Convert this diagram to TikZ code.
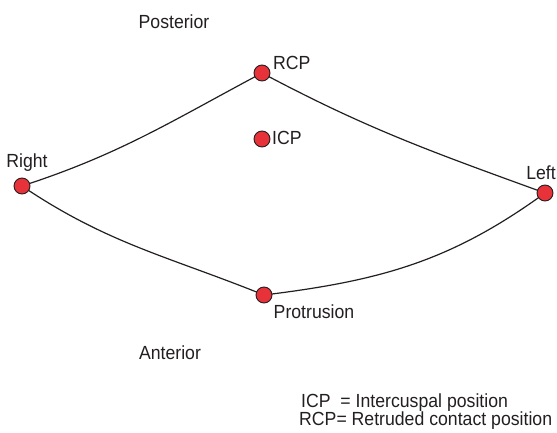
\documentclass[tikz,border=0pt]{standalone}
\usepackage{fontspec}
\setmainfont{Liberation Sans}[FakeStretch=0.93]
\usepackage{tikz}
\usetikzlibrary{%
  positioning%
}
\definecolor{dotred}{RGB}{232,50,58}
\definecolor{inkline}{RGB}{35,31,32}

\begin{document}
\begin{tikzpicture}[x=1pt,y=1pt,
  posdot/.style={circle,draw=inkline,line width=0.9pt,fill=dotred,minimum size=16pt,inner sep=0pt},
  lbl/.style={inner sep=0pt,text=inkline,font=\fontsize{19}{22}\selectfont},
  curve/.style={draw=inkline,line width=1.2pt}]
\useasboundingbox (0,0) rectangle (557,432);
\node[lbl] (post) at (174,410) {Posterior};
\node[lbl] (ant) at (170,79) {Anterior};
%
\coordinate (cR) at (22,246);
\coordinate (cRCP) at (262,359);
\coordinate (cICP) at (262,293);
\coordinate (cL) at (545,239);
\coordinate (cP) at (264,137);
%
\draw[curve] (cR) to[out=18,in=208] (cRCP)
             (cRCP) to[out=-28,in=160] (cL)
             (cR) to[out=-34,in=158] (cP)
             (cP) to[out=7,in=216] (cL);
%
\node[posdot] (right) at (cR) {};
\node[posdot] (rcp) at (cRCP) {};
\node[posdot] (icp) at (cICP) {};
\node[posdot] (left) at (cL) {};
\node[posdot] (prot) at (cP) {};
%
\node[lbl,anchor=west] (trcp) at (273,369) {RCP};
\node[lbl,anchor=west] (ticp) at (272,294) {ICP};
\node[lbl] (tright) at (27,269) {Right};
\node[lbl] (tleft) at (541,259) {Left};
\node[lbl] (tprot) at (314,120) {Protrusion};
%
\node[lbl,anchor=west,align=left,font=\fontsize{19}{17}\selectfont] (key) at (299,20.5)
  {\hspace{2pt}ICP\ \ = Intercuspal position\\RCP= Retruded contact position};
\end{tikzpicture}
\end{document}
